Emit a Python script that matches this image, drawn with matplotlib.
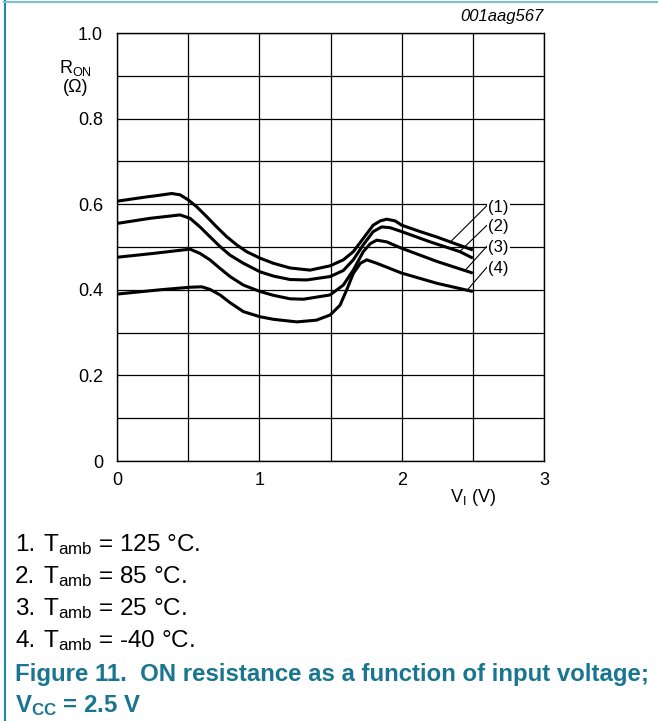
import matplotlib.pyplot as plt
from matplotlib.lines import Line2D

plt.rcParams['font.family'] = ['Liberation Sans', 'DejaVu Sans']
plt.rcParams['mathtext.fontset'] = 'custom'
plt.rcParams['mathtext.rm'] = 'Liberation Sans'
plt.rcParams['mathtext.it'] = 'Liberation Sans:italic'
plt.rcParams['mathtext.bf'] = 'Liberation Sans:bold'

# V_I (V) / R_ON (ohm) points, one pair of lists per curve
vi_125 = [0.0, 0.185, 0.30, 0.384, 0.443, 0.501, 0.560, 0.630, 0.700, 0.771, 0.841, 0.911, 1.005,
          1.098, 1.216, 1.356, 1.497, 1.59, 1.66, 1.73, 1.80, 1.85, 1.895, 1.954, 2.0,
          2.13, 2.25, 2.34, 2.5]
ron_125 = [0.607, 0.616, 0.621, 0.625, 0.622, 0.610, 0.594, 0.571, 0.547, 0.524, 0.505, 0.489, 0.474,
           0.462, 0.451, 0.446, 0.456, 0.470, 0.489, 0.520, 0.551, 0.561, 0.565, 0.561, 0.551,
           0.536, 0.523, 0.512, 0.493]

vi_85 = [0.0, 0.232, 0.443, 0.513, 0.583, 0.653, 0.724, 0.794, 0.888, 1.005, 1.10, 1.216,
         1.333, 1.497, 1.59, 1.66, 1.73, 1.80, 1.86, 1.92, 2.0, 2.20, 2.41, 2.5]
ron_85 = [0.555, 0.567, 0.575, 0.567, 0.547, 0.524, 0.501, 0.481, 0.462, 0.442, 0.432, 0.424,
          0.423, 0.431, 0.445, 0.470, 0.505, 0.536, 0.547, 0.545, 0.536, 0.512, 0.489, 0.474]

vi_25 = [0.0, 0.255, 0.513, 0.583, 0.653, 0.724, 0.794, 0.888, 1.005, 1.10, 1.216, 1.31,
         1.497, 1.59, 1.66, 1.73, 1.78, 1.825, 1.895, 2.0, 2.25, 2.5]
ron_25 = [0.476, 0.485, 0.495, 0.485, 0.470, 0.450, 0.431, 0.411, 0.396, 0.387, 0.379, 0.378,
          0.388, 0.411, 0.446, 0.489, 0.508, 0.516, 0.512, 0.497, 0.466, 0.439]

vi_m40 = [0.0, 0.302, 0.513, 0.595, 0.653, 0.724, 0.794, 0.888, 1.005, 1.10, 1.263, 1.40,
          1.497, 1.567, 1.614, 1.66, 1.71, 1.755, 1.825, 2.0, 2.25, 2.5]
ron_m40 = [0.390, 0.400, 0.406, 0.407, 0.401, 0.388, 0.370, 0.349, 0.337, 0.331, 0.325, 0.329,
           0.341, 0.364, 0.400, 0.438, 0.462, 0.470, 0.462, 0.439, 0.415, 0.396]

curve_labels = ['(1)', '(2)', '(3)', '(4)']
label_y = [0.593, 0.547, 0.498, 0.449]
leader_end = [(2.34, 0.511), (2.41, 0.490), (2.45, 0.447), (2.46, 0.399)]

legend_nums = ['1.', '2.', '3.', '4.']
legend_text = ['T$_{\\mathrm{amb}}$ = 125 °C.',
               'T$_{\\mathrm{amb}}$ = 85 °C.',
               'T$_{\\mathrm{amb}}$ = 25 °C.',
               'T$_{\\mathrm{amb}}$ = -40 °C.']

teal = '#1a7590'

fig = plt.figure(figsize=(6.58, 7.21), dpi=100)
ax = fig.add_axes([117 / 658, 1 - 461 / 721, 427 / 658, 428 / 721])

for x, y in [(vi_125, ron_125), (vi_85, ron_85), (vi_25, ron_25), (vi_m40, ron_m40)]:
    ax.plot(x, y, color='black', linewidth=2.2, solid_capstyle='butt',
            solid_joinstyle='round', zorder=3)

ax.set_xlim(0, 3)
ax.set_ylim(0, 1.0)
ax.set_xticks([0, 0.5, 1, 1.5, 2, 2.5, 3])
ax.set_xticklabels(['0', '', '1', '', '2', '', '3'])
ax.set_yticks([i / 10 for i in range(11)])
ax.set_yticklabels(['0', '', '0.2', '', '0.4', '', '0.6', '', '0.8', '', '1.0'])
ax.tick_params(length=0, labelsize=13, colors='black')
ax.tick_params(axis='y', pad=10)
ax.tick_params(axis='x', pad=8)
ax.grid(True, color='black', linewidth=0.9)
for s in ax.spines.values():
    s.set_linewidth(1.0)

# curve labels with leader lines
for lab, ly, (ex, ey) in zip(curve_labels, label_y, leader_end):
    ax.plot([2.60, ex], [ly + 0.004, ey], color='black', linewidth=0.8, zorder=4)
    ax.text(2.68, ly, lab, fontsize=12, ha='center', va='center', zorder=5,
            bbox=dict(facecolor='white', edgecolor='none', pad=1.0))

ax.text(-0.29, 0.918, 'R$_{\\mathrm{ON}}$', fontsize=13, ha='center', va='center', clip_on=False)
ax.text(-0.29, 0.872, '(Ω)', fontsize=13, ha='center', va='center', clip_on=False)
ax.text(2.5, -0.085, 'V$_{\\mathrm{I}}$ (V)', fontsize=13, ha='center', va='center', clip_on=False)
ax.text(3.0, 1.022, '001aag567', fontsize=12, style='italic', ha='right', va='bottom', clip_on=False)

# caption
for i, (n, t) in enumerate(zip(legend_nums, legend_text)):
    yy = 1 - (545 + 32 * i) / 721
    fig.text(15 / 658, yy, n, fontsize=17.5, ha='left', va='center')
    fig.text(43 / 658, yy, t, fontsize=17.5, ha='left', va='center')
fig.text(15 / 658, 1 - 675 / 721, 'Figure 11.  ON resistance as a function of input voltage;',
         fontsize=17.3, fontweight='bold', color=teal, ha='left', va='center')
fig.text(15 / 658, 1 - 706 / 721, 'V$_{\\mathbf{CC}}$ = 2.5 V',
         fontsize=17.3, fontweight='bold', color=teal, ha='left', va='center')

# frame lines of the page
fig.add_artist(Line2D([4.5 / 658, 4.5 / 658], [0, 1], color='#1a8aa3', linewidth=1.5))
fig.add_artist(Line2D([4 / 658, 1], [1 - 1.5 / 721, 1 - 1.5 / 721], color='#7cc0cf', linewidth=1.5))

fig.savefig('out.png', dpi=100)
